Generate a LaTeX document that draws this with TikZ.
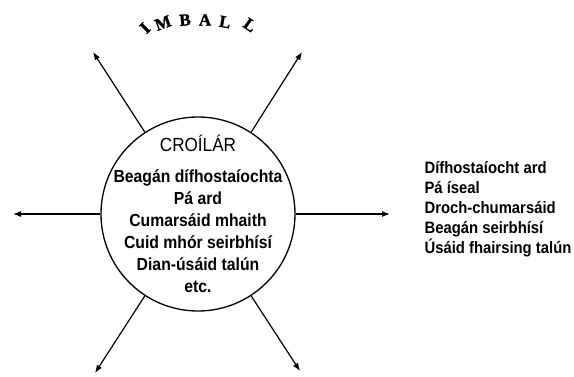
\documentclass[tikz,border=0pt]{standalone}
\usepackage{fontspec}
\setmainfont{Liberation Sans}[FakeStretch=0.9]
\newfontfamily\imballfont{Liberation Serif}[UprightFont=* Bold, FakeBold=1.5]
\usetikzlibrary{arrows.meta,positioning}

\begin{document}
\begin{tikzpicture}[x=1pt, y=-1pt,
      hub/.style={draw, circle, line width=1.3pt, minimum size=194pt, inner sep=0pt},
      spoke/.style={-{Latex[length=8pt,width=6pt]}, line width=1.2pt},
      inside/.style={align=center, font=\bfseries\fontsize{17.5}{22}\selectfont},
      list/.style={anchor=west, align=left, font=\bfseries\fontsize{16.5}{20}\selectfont},
      arcletter/.style={inner sep=0pt, font=\imballfont\fontsize{17}{17}\selectfont}]
    \useasboundingbox (0,0) rectangle (574,376);
    \node (core) [hub] at (198,214) {};
    \node (coretext) [inside] at (core.center) {{\mdseries\fontsize{19}{22}\selectfont CROÍLÁR}\\[9pt]
      Beagán dífhostaíochta\\ Pá ard\\ Cumarsáid mhaith\\ Cuid mhór seirbhísí\\ Dian-úsáid talún\\ etc.};
    % arrow ends
    \coordinate (ul) at (93,52);
    \coordinate (ur) at (302,52);
    \coordinate (ll) at (95,373);
    \coordinate (lr) at (300,371);
    \coordinate (lt) at (13,214);
    \coordinate (rt) at (390,214);
    \foreach \ang/\tip in {123/ul, 57/ur, 237/ll, 303/lr, 180/lt, 0/rt}
      \draw[spoke] (core.\ang) -- (\tip);
    \node (lacks) [list] at (421,209) {Dífhostaíocht ard\\ Pá íseal\\ Droch-chumarsáid\\ Beagán seirbhísí\\ Úsáid fhairsing talún};
    % title round the top
    \foreach \ch/\px/\py/\rot [count=\i] in {I/145/28/45, M/163/23/20, B/185/20/5, A/205/20/0, L/225/22/-10, L/250/25/-35}
      \node (imball\i) [arcletter, rotate=\rot] at (\px,\py) {\ch};
\end{tikzpicture}
\end{document}
